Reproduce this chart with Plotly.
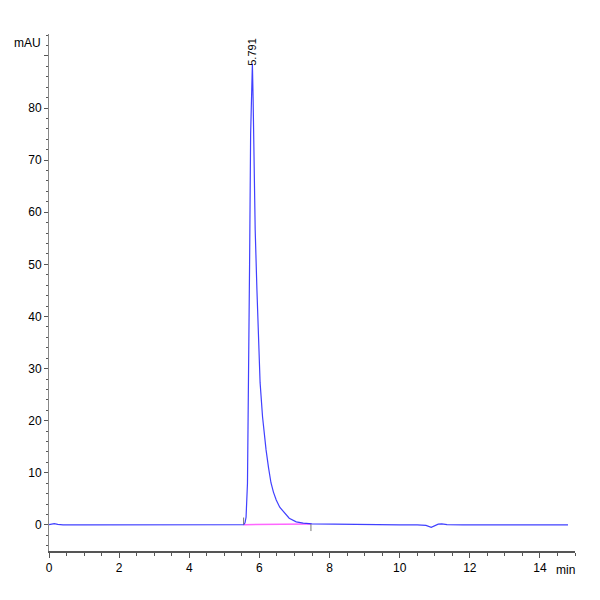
import plotly.graph_objects as go

# chromatogram trace (min, mAU)
time_min = [0.0, 0.08, 0.15, 0.25, 0.4, 1.0, 2.0, 3.0, 4.0, 5.0, 5.5, 5.55, 5.59,
            5.62, 5.66, 5.69, 5.72, 5.75, 5.78, 5.80, 5.82, 5.84, 5.88, 5.93, 5.98,
            6.02, 6.09, 6.14, 6.19, 6.26, 6.33, 6.40, 6.48, 6.58, 6.71, 6.85, 7.05,
            7.25, 7.5, 8.0, 8.5, 9.0, 10.0, 10.5, 10.75, 10.9, 11.0, 11.1, 11.2,
            11.35, 11.8, 12.5, 13.5, 14.8]
signal_mau = [0.05, 0.2, 0.25, 0.1, 0.0, 0.0, 0.0, 0.0, 0.0, 0.0, 0.0, 0.05, 0.4,
              1.5, 8.0, 25.0, 50.0, 75.0, 87.0, 88.5, 82.0, 70.0, 56.6, 45.0, 33.6,
              27.3, 20.7, 17.2, 14.4, 11.0, 8.1, 6.3, 4.8, 3.4, 2.3, 1.3, 0.6,
              0.35, 0.2, 0.15, 0.05, 0.0, 0.0, 0.0, -0.1, -0.45, -0.2, 0.15, 0.2,
              0.05, 0.0, 0.0, 0.0, 0.0]

# integration baseline start / end
base_t = [5.55, 7.47]
base_y = [0.05, 0.2]

peak_rt = 5.791
peak_h = 88.5

# y ticks: 90 has a tick but no label (mAU sits there)
y_tickvals = [0, 10, 20, 30, 40, 50, 60, 70, 80, 90]
y_ticktext = ['0', '10', '20', '30', '40', '50', '60', '70', '80', '']

fig = go.Figure()
fig.add_trace(go.Scatter(x=base_t, y=base_y, mode='lines',
                         line=dict(color='#ff66ff', width=1.5), hoverinfo='skip'))
fig.add_trace(go.Scatter(x=time_min, y=signal_mau, mode='lines',
                         line=dict(color='rgba(30,30,255,0.85)', width=1.2)))
# little start/end ticks of the integration
fig.add_trace(go.Scatter(x=base_t, y=[base_y[0] + 0.7, base_y[1] - 0.7], mode='markers',
                         marker=dict(symbol='line-ns', size=5,
                                     line=dict(color='#777777', width=1))))

fig.add_annotation(x=peak_rt, y=peak_h, text=f'{peak_rt:.3f}', textangle=-90,
                   showarrow=False, yanchor='bottom', xanchor='center',
                   font=dict(size=11, color='black'), yshift=-4)
fig.add_annotation(x=0, y=1, xref='paper', yref='paper', text='mAU',
                   showarrow=False, xanchor='right', yanchor='top',
                   xshift=-6, yshift=0, font=dict(size=12, color='black'))
fig.add_annotation(x=1, y=0, xref='paper', yref='paper', text='min',
                   showarrow=False, xanchor='right', yanchor='top',
                   xshift=2, yshift=-10, font=dict(size=12, color='black'))

fig.update_layout(
    width=600, height=600,
    margin=dict(l=41, r=33, t=26, b=57),
    paper_bgcolor='white', plot_bgcolor='white',
    showlegend=False,
    font=dict(family='Liberation Sans Narrow, Liberation Sans, Arial, sans-serif',
              size=12, color='black'),
    xaxis=dict(range=[0, 15], showgrid=False, zeroline=False,
               showline=True, linecolor='#555555', linewidth=2,
               tick0=0, dtick=2, ticks='outside', ticklen=5, tickcolor='#555555',
               minor=dict(dtick=0.5, ticks='outside', ticklen=3, tickcolor='#555555'),
               tickfont=dict(size=12)),
    yaxis=dict(range=[-5, 94.2], showgrid=False, zeroline=False,
               showline=True, linecolor='#888888', linewidth=1,
               tickmode='array', tickvals=y_tickvals, ticktext=y_ticktext,
               ticks='outside', ticklen=4, tickcolor='#555555',
               minor=dict(dtick=2, ticks='outside', ticklen=2, tickcolor='#555555'),
               tickfont=dict(size=12)),
)

fig.write_html("out.html")
